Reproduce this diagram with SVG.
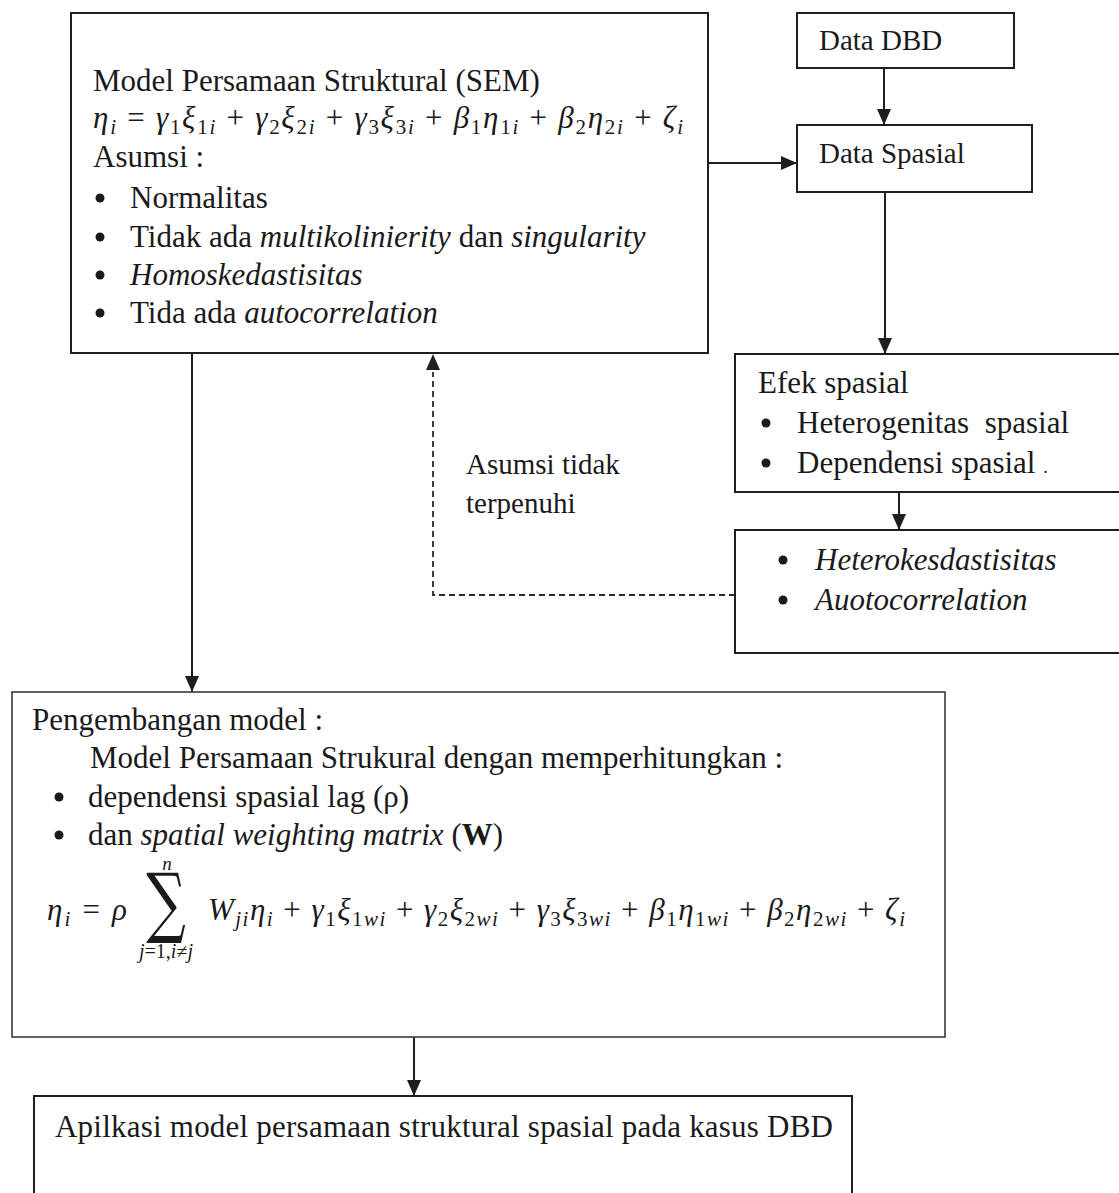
<svg xmlns="http://www.w3.org/2000/svg" width="1119" height="1193" viewBox="0 0 1119 1193">
<style>
.box{fill:none;stroke:#1e1e1e;stroke-width:2}
.box2{fill:none;stroke:#3a3a3a;stroke-width:1.6}
.t{font-family:"Liberation Serif","Times New Roman",serif;font-size:31px;fill:#1a1a1a;white-space:pre}
.i{font-style:italic}
.lbl{font-family:"Liberation Serif","Times New Roman",serif;font-size:29px;fill:#1a1a1a}
.m{font-family:"Liberation Serif","Times New Roman",serif;font-size:31px;font-style:italic;fill:#1a1a1a}
.up{font-style:normal}
.sd{font-size:21px;font-style:normal}
.si{font-size:21px;font-style:italic}
.ln{fill:none;stroke:#1e1e1e;stroke-width:2}
.dash{fill:none;stroke:#2a2a2a;stroke-width:1.8;stroke-dasharray:6 4}
.bul{fill:#1a1a1a}
</style>
<defs>
<marker id="ah" markerUnits="userSpaceOnUse" markerWidth="16" markerHeight="14" refX="16" refY="7" orient="auto">
<path d="M0,0 L16,7 L0,14 Z" fill="#1e1e1e"/>
</marker>
</defs>
<rect width="1119" height="1193" fill="#ffffff"/>

<g id="connectors">
<line class="ln" x1="708" y1="163" x2="797" y2="163" marker-end="url(#ah)"/>
<line class="ln" x1="884" y1="68" x2="884" y2="125" marker-end="url(#ah)"/>
<line class="ln" x1="885" y1="192" x2="885" y2="354" marker-end="url(#ah)"/>
<line class="ln" x1="899" y1="492" x2="899" y2="530" marker-end="url(#ah)"/>
<polyline class="dash" points="735,595 433,595 433,372"/>
<path d="M426,370 L433,354 L440,370 Z" fill="#1e1e1e"/>
<line class="ln" x1="192" y1="353" x2="192" y2="692" marker-end="url(#ah)"/>
<line class="ln" x1="414" y1="1037" x2="414" y2="1096" marker-end="url(#ah)"/>
</g>

<g id="node-sem">
<rect class="box" x="71" y="13" width="637" height="340"/>
<text class="t" x="93" y="91">Model Persamaan Struktural (SEM)</text>
<text class="m" x="93" y="128" textLength="590" lengthAdjust="spacing">η<tspan class="si" dy="6">i</tspan><tspan class="up" dy="-6"> = </tspan>γ<tspan class="sd" dy="6">1</tspan><tspan dy="-6">ξ</tspan><tspan class="sd" dy="6">1</tspan><tspan class="si">i</tspan><tspan class="up" dy="-6"> + </tspan>γ<tspan class="sd" dy="6">2</tspan><tspan dy="-6">ξ</tspan><tspan class="sd" dy="6">2</tspan><tspan class="si">i</tspan><tspan class="up" dy="-6"> + </tspan>γ<tspan class="sd" dy="6">3</tspan><tspan dy="-6">ξ</tspan><tspan class="sd" dy="6">3</tspan><tspan class="si">i</tspan><tspan class="up" dy="-6"> + </tspan>β<tspan class="sd" dy="6">1</tspan><tspan dy="-6">η</tspan><tspan class="sd" dy="6">1</tspan><tspan class="si">i</tspan><tspan class="up" dy="-6"> + </tspan>β<tspan class="sd" dy="6">2</tspan><tspan dy="-6">η</tspan><tspan class="sd" dy="6">2</tspan><tspan class="si">i</tspan><tspan class="up" dy="-6"> + </tspan>ζ<tspan class="si" dy="6">i</tspan></text>
<text class="t" x="93" y="167">Asumsi :</text>
<circle class="bul" cx="100" cy="198" r="4.5"/>
<text class="t" x="130" y="208">Normalitas</text>
<circle class="bul" cx="100" cy="237" r="4.5"/>
<text class="t" x="130" y="247">Tidak ada <tspan class="i">multikolinierity</tspan> dan <tspan class="i">singularity</tspan></text>
<circle class="bul" cx="100" cy="275" r="4.5"/>
<text class="t i" x="130" y="285">Homoskedastisitas</text>
<circle class="bul" cx="100" cy="313" r="4.5"/>
<text class="t" x="130" y="323">Tida ada <tspan class="i">autocorrelation</tspan></text>
</g>

<g id="node-data-dbd">
<rect class="box" x="797" y="13" width="217" height="55"/>
<text class="lbl" x="819" y="50">Data DBD</text>
</g>

<g id="node-data-spasial">
<rect class="box" x="797" y="125" width="235" height="67"/>
<text class="lbl" x="819" y="163">Data Spasial</text>
</g>

<g id="node-efek">
<rect class="box" x="735" y="354" width="400" height="138"/>
<text class="t" x="758" y="393">Efek spasial</text>
<circle class="bul" cx="766" cy="423" r="4.5"/>
<text class="t" x="797" y="433">Heterogenitas  spasial</text>
<circle class="bul" cx="766" cy="463" r="4.5"/>
<text class="t" x="797" y="473">Dependensi spasial <tspan font-size="18">.</tspan></text>
</g>

<g id="node-hetero">
<rect class="box" x="735" y="530" width="400" height="123"/>
<circle class="bul" cx="783" cy="560" r="4.5"/>
<text class="t i" x="815" y="570">Heterokesdastisitas</text>
<circle class="bul" cx="783" cy="600" r="4.5"/>
<text class="t i" x="815" y="610">Auotocorrelation</text>
</g>

<g id="label-asumsi">
<text class="lbl" x="466" y="474">Asumsi tidak</text>
<text class="lbl" x="466" y="513">terpenuhi</text>
</g>

<g id="node-pengembangan">
<rect class="box2" x="12" y="692" width="933" height="345"/>
<text class="t" x="32" y="730">Pengembangan model :</text>
<text class="t" x="90" y="768">Model Persamaan Strukural dengan memperhitungkan :</text>
<circle class="bul" cx="59" cy="797" r="4.5"/>
<text class="t" x="88" y="807">dependensi spasial lag (ρ)</text>
<circle class="bul" cx="59" cy="835" r="4.5"/>
<text class="t" x="88" y="845">dan <tspan class="i">spatial weighting matrix</tspan> (<tspan font-weight="bold">W</tspan>)</text>
<text class="m" x="47" y="920" textLength="80" lengthAdjust="spacing">η<tspan class="si" dy="6">i</tspan><tspan class="up" dy="-6"> = </tspan>ρ</text>
<text transform="translate(166,928) scale(0.72,1)" x="0" y="0" text-anchor="middle" font-family="DejaVu Serif, serif" font-size="77" fill="#1a1a1a">∑</text>
<text class="m" x="167" y="870" text-anchor="middle" style="font-size:19px">n</text>
<text class="m" x="166" y="958" text-anchor="middle" style="font-size:20px">j<tspan class="up">=1,</tspan>i<tspan class="up">≠</tspan>j</text>
<text class="m" x="208" y="920" textLength="697" lengthAdjust="spacing">W<tspan class="si" dy="6">ji</tspan><tspan dy="-6">η</tspan><tspan class="si" dy="6">i</tspan><tspan class="up" dy="-6"> + </tspan>γ<tspan class="sd" dy="6">1</tspan><tspan dy="-6">ξ</tspan><tspan class="sd" dy="6">1</tspan><tspan class="si">wi</tspan><tspan class="up" dy="-6"> + </tspan>γ<tspan class="sd" dy="6">2</tspan><tspan dy="-6">ξ</tspan><tspan class="sd" dy="6">2</tspan><tspan class="si">wi</tspan><tspan class="up" dy="-6"> + </tspan>γ<tspan class="sd" dy="6">3</tspan><tspan dy="-6">ξ</tspan><tspan class="sd" dy="6">3</tspan><tspan class="si">wi</tspan><tspan class="up" dy="-6"> + </tspan>β<tspan class="sd" dy="6">1</tspan><tspan dy="-6">η</tspan><tspan class="sd" dy="6">1</tspan><tspan class="si">wi</tspan><tspan class="up" dy="-6"> + </tspan>β<tspan class="sd" dy="6">2</tspan><tspan dy="-6">η</tspan><tspan class="sd" dy="6">2</tspan><tspan class="si">wi</tspan><tspan class="up" dy="-6"> + </tspan>ζ<tspan class="si" dy="6">i</tspan></text>
</g>

<g id="node-aplikasi">
<rect class="box" x="34" y="1096" width="818" height="120"/>
<text class="t" x="55" y="1137" textLength="778" lengthAdjust="spacing">Apilkasi model persamaan struktural spasial pada kasus DBD</text>
</g>
</svg>
